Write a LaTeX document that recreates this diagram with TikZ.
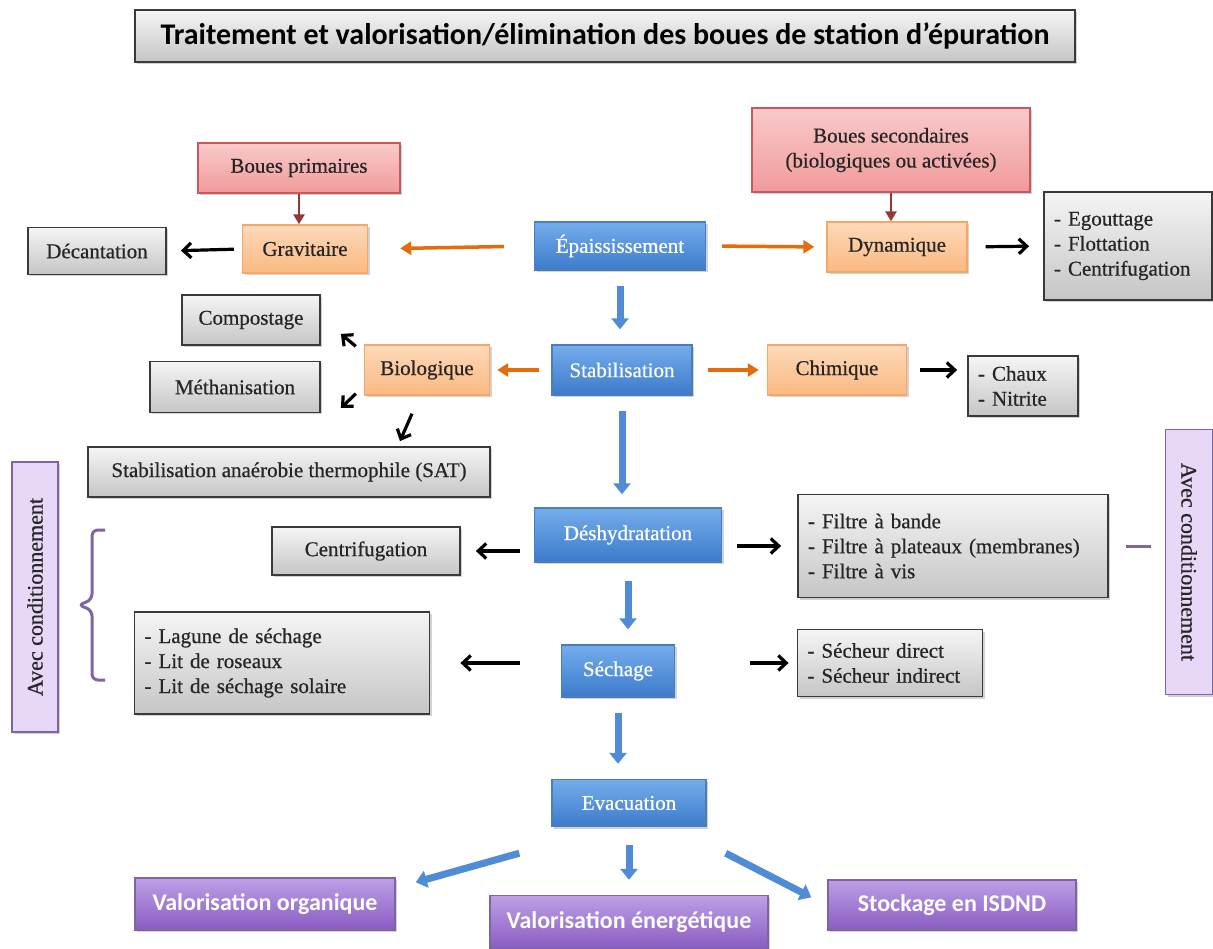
\documentclass[tikz,border=0pt]{standalone}
\usepackage{fontspec}
\setmainfont{Liberation Serif}
\newfontfamily\boxfont{Liberation Serif}[FakeBold=0.6]
\newfontfamily\headfont{Carlito}
\usetikzlibrary{positioning,shapes,arrows.meta,shadows}

\definecolor{textdark}{HTML}{262626}
\definecolor{grayline}{HTML}{3A3A3A}
\definecolor{orangeline}{HTML}{F3A86A}
\definecolor{orangetop}{HTML}{FDD9B9}
\definecolor{orangebot}{HTML}{FAB982}
\definecolor{pinkline}{HTML}{C9585A}
\definecolor{pinktop}{HTML}{F9CACA}
\definecolor{pinkbot}{HTML}{F19A9A}
\definecolor{blueline}{HTML}{4A7EBB}
\definecolor{bluetop}{HTML}{74ADEB}
\definecolor{bluebot}{HTML}{3D7BCB}
\definecolor{purpleline}{HTML}{8064A2}
\definecolor{purpletop}{HTML}{BCA0E6}
\definecolor{purplebot}{HTML}{8A5CC2}
\definecolor{lavender}{HTML}{E6D8F6}
\definecolor{bluearrow}{HTML}{4F8BD6}
\definecolor{orangearrow}{HTML}{E46C0A}
\definecolor{feedred}{HTML}{953735}

\tikzstyle{box} = [rectangle, draw, line width=1.4pt, inner sep=4pt, text centered, text=textdark, font=\boxfont\fontsize{21}{25}\selectfont, drop shadow={shadow xshift=2pt, shadow yshift=-2pt, opacity=0.35}]
\tikzstyle{graybox} = [box, draw=grayline, line width=1.8pt, top color=gray!8, bottom color=gray!45]
\tikzstyle{listbox} = [graybox, align=left, inner sep=10pt]
\tikzstyle{orangebox} = [box, draw=orangeline, top color=orangetop, bottom color=orangebot]
\tikzstyle{pinkbox} = [box, draw=pinkline, top color=pinktop, bottom color=pinkbot, align=center]
\tikzstyle{bluebox} = [box, draw=blueline, top color=bluetop, bottom color=bluebot, text=white]
\tikzstyle{endbox} = [box, draw=purpleline, top color=purpletop, bottom color=purplebot, text=white, font=\headfont\bfseries\fontsize{24}{28}\selectfont]
\tikzstyle{sidebox} = [box, draw=purpleline, fill=lavender, font=\boxfont\fontsize{22}{26}\selectfont]
\tikzstyle{flow} = [line width=7pt, draw=bluearrow, -{Triangle[width=17pt,length=11pt]}]
\tikzstyle{side} = [line width=3.5pt, draw=orangearrow, -{Triangle[width=13pt,length=11pt]}]
\tikzstyle{connect} = [line width=3.2pt, -{Straight Barb[width=15pt,length=8pt]}]
\tikzstyle{feed} = [line width=2.5pt, draw=feedred, -{Triangle[width=11pt,length=10pt]}]

\begin{document}
\begin{tikzpicture}[x=1pt, y=-1pt]
\useasboundingbox (0,0) rectangle (1213,949);
\fill[white] (0,0) rectangle (1213,949);

% titre
\node (title) [graybox, minimum width=940pt, minimum height=52pt, text=black, font=\headfont\bfseries\fontsize{30}{34}\selectfont] at (605,36) {Traitement et valorisation/élimination des boues de station d’épuration};

% boues
\node (bprim) [pinkbox, minimum width=202pt, minimum height=50pt] at (299,168) {Boues primaires};
\node (bsec) [pinkbox, minimum width=278pt, minimum height=84pt] at (891,150) {Boues secondaires\\(biologiques ou activées)};

% epaississement
\node (epai) [bluebox, minimum width=171pt, minimum height=48pt] at (620,246) {Épaississement};
\node (grav) [orangebox, minimum width=125pt, minimum height=48pt] at (305,249) {Gravitaire};
\node (dyn) [orangebox, minimum width=140pt, minimum height=50pt] at (897,247) {Dynamique};
\node (decant) [graybox, minimum width=138pt, minimum height=47pt] at (97,251) {Décantation};
\node (egout) [listbox, text width=148pt, minimum height=108pt] at (1128,246) {- Egouttage\\- Flottation\\- Centrifugation};

% stabilisation
\node (stab) [bluebox, minimum width=140pt, minimum height=50pt] at (622,370) {Stabilisation};
\node (bio) [orangebox, minimum width=125pt, minimum height=50pt] at (427,370) {Biologique};
\node (chim) [orangebox, minimum width=139pt, minimum height=50pt] at (837,370) {Chimique};
\node (chaux) [listbox, text width=90pt, minimum height=52pt] at (1023,386) {- Chaux\\- Nitrite};
\node (compost) [graybox, minimum width=138pt, minimum height=50pt] at (251,320) {Compostage};
\node (methan) [graybox, minimum width=170pt, minimum height=51pt] at (235,387) {Méthanisation};
\node (sat) [graybox, minimum width=402pt, minimum height=50pt] at (289,472) {Stabilisation anaérobie thermophile (SAT)};

% deshydratation
\node (deshy) [bluebox, minimum width=187pt, minimum height=54pt] at (628,535) {Déshydratation};
\node (centri) [graybox, minimum width=188pt, minimum height=48pt] at (366,551) {Centrifugation};
\node (filtre) [listbox, text width=290pt, minimum height=103pt] at (953,546) {- Filtre à bande\\- Filtre à plateaux (membranes)\\- Filtre à vis};

% sechage
\node (sech) [bluebox, minimum width=113pt, minimum height=52pt] at (618,671) {Séchage};
\node (lagune) [listbox, text width=275pt, minimum height=102pt] at (282,663) {- Lagune de séchage\\- Lit de roseaux\\- Lit de séchage solaire};
\node (secheur) [listbox, text width=165pt, minimum height=67pt] at (890,663) {- Sécheur direct\\- Sécheur indirect};

% conditionnement
\node (avecL) [sidebox, minimum width=46pt, minimum height=270pt] at (35,597) {\rotatebox{90}{Avec conditionnement}};
\node (avecR) [sidebox, minimum width=47pt, minimum height=265pt] at (1189,562) {\rotatebox{-90}{Avec conditionnement}};

% evacuation
\node (evac) [bluebox, minimum width=154pt, minimum height=47pt] at (629,803) {Evacuation};
\node (vorg) [endbox, minimum width=260pt, minimum height=52pt] at (265,904) {Valorisation organique};
\node (vener) [endbox, minimum width=278pt, minimum height=53pt] at (629,922) {Valorisation énergétique};
\node (stock) [endbox, minimum width=248pt, minimum height=50pt] at (952,905) {Stockage en ISDND};

\draw [feed] (bprim.south) -- (bprim.south |- grav.north);
\draw [feed] (bsec.south) -- (bsec.south |- dyn.north);

\draw [side, shorten <=30pt, shorten >=32pt] (epai.west) -- (grav.east);
\draw [side, shorten <=16pt, shorten >=12pt] (epai.east) -- (dyn.west);
\draw [connect, shorten <=8pt, shorten >=14pt] (grav.west) -- (decant.east);
\draw [connect, shorten <=18pt, shorten >=14pt] (dyn.east) -- (egout.west);

\draw [flow, shorten <=15pt, shorten >=15pt] (epai.south) -- (epai.south |- stab.north);
\draw [side, shorten <=12pt, shorten >=7pt] (stab.west) -- (bio.east);
\draw [side, shorten <=15pt, shorten >=8pt] (stab.east) -- (chim.west);
\draw [connect, shorten <=13pt, shorten >=10pt] (chim.east) -- (chim.east -| chaux.west);
\draw [connect] ([xshift=-8pt, yshift=-2pt]bio.north west) -- ([xshift=20pt, yshift=12pt]compost.south east);
\draw [connect] ([xshift=-8pt, yshift=2pt]bio.south west) -- ([xshift=20pt, yshift=-21pt]methan.east);
\draw [connect] ([xshift=-15pt, yshift=-18pt]bio.south) -- ([xshift=111pt, yshift=5pt]sat.north);

\draw [flow, shorten <=15pt, shorten >=13pt] (stab.south) -- (stab.south |- deshy.north);
\draw [connect, shorten <=14pt, shorten >=15pt] (deshy.west |- centri.east) -- (centri.east);
\draw [connect, shorten <=15pt, shorten >=16pt] (deshy.east |- filtre.west) -- (filtre.west);
\draw [line width=3pt, draw=purpleline, shorten <=17pt, shorten >=14pt] (filtre.east) -- (filtre.east -| avecR.west);
\draw [line width=3pt, draw=purpleline, rounded corners=6pt] (105,530) -- (92,530) -- (92,600) -- (78,605) -- (92,610) -- (92,680) -- (105,680);

\draw [flow, shorten <=18pt, shorten >=15pt] (deshy.south) -- (deshy.south |- sech.north);
\draw [connect, shorten <=41pt, shorten >=30pt] (sech.west |- lagune.east) -- (lagune.east);
\draw [connect, shorten <=75pt, shorten >=8pt] (sech.east |- secheur.west) -- (secheur.west);

\draw [flow, shorten <=15pt, shorten >=15pt] (sech.south) -- (sech.south |- evac.north);
\draw [flow, shorten <=18pt, shorten >=15pt] (evac.south) -- (vener.north);
\draw [flow] ([xshift=-32pt, yshift=-26pt]evac.south west) -- ([xshift=20pt, yshift=-5pt]vorg.north east);
\draw [flow] ([xshift=19pt, yshift=-26pt]evac.south east) -- ([xshift=-16pt, yshift=-18pt]stock.north west);
\end{tikzpicture}
\end{document}
